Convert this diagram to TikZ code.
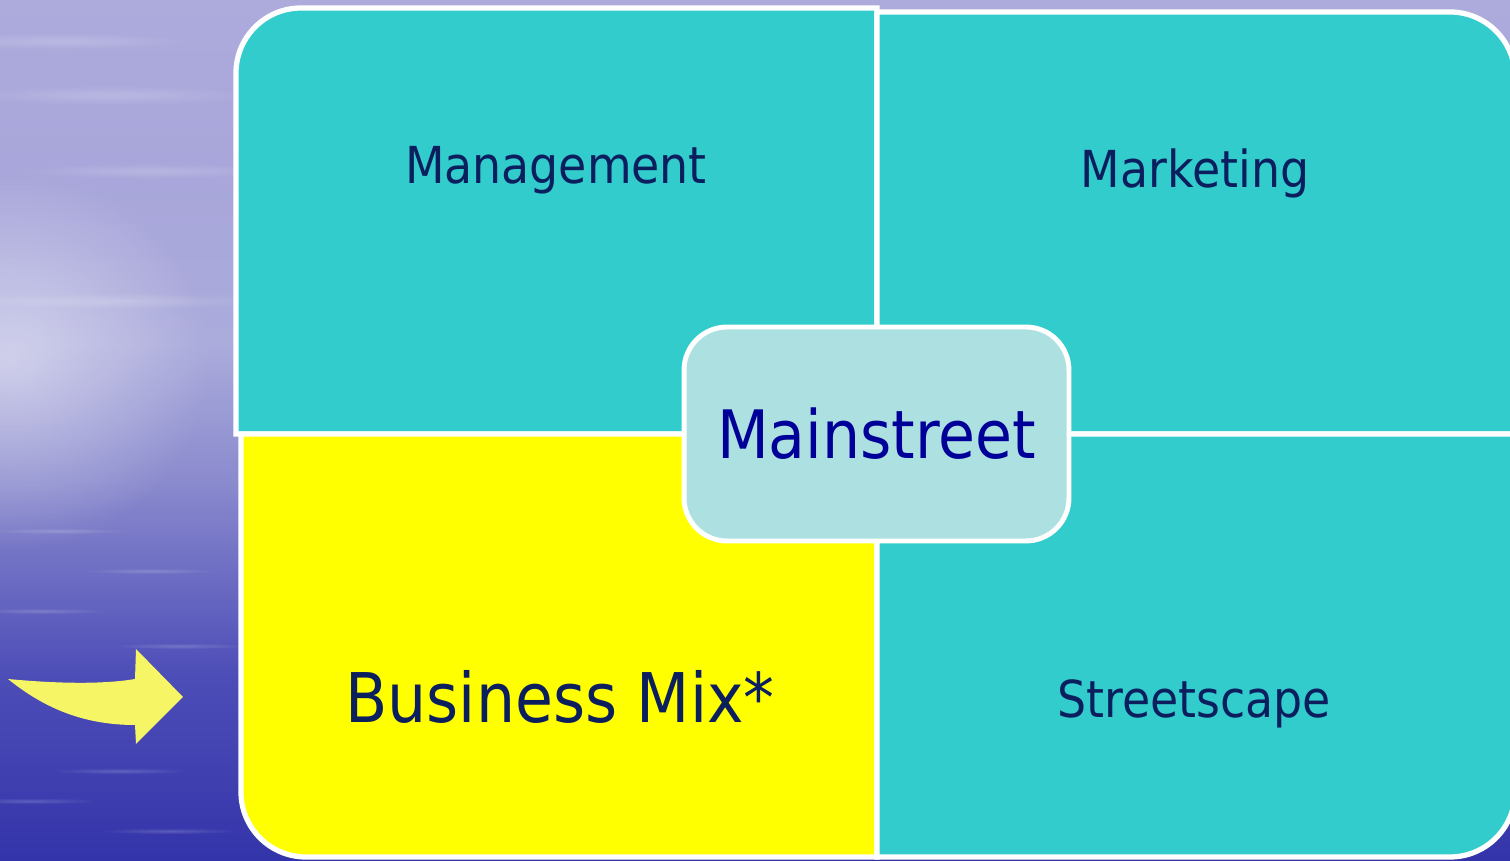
\documentclass[tikz,border=0pt]{standalone}
\usepackage{fontspec}
\setmainfont{DejaVu Sans Condensed}
\usetikzlibrary{fadings}
\usepackage{xcolor}

\definecolor{seadeep}{HTML}{3434AA}
\definecolor{seadark}{HTML}{4E4EB8}
\definecolor{seamid}{HTML}{8A8ACE}
\definecolor{sealight}{HTML}{ABABDC}
\definecolor{seahaze}{HTML}{A8A6DA}
\definecolor{seatop}{HTML}{ADABDC}
\definecolor{quadteal}{HTML}{33CCCC}
\definecolor{quadyellow}{HTML}{FFFF00}
\definecolor{hubfill}{HTML}{ADE1E1}
\definecolor{hubblue}{HTML}{000099}
\definecolor{labelnavy}{HTML}{0B1F5E}
\definecolor{arrowyellow}{HTML}{F5F566}

% the path is fitted to 25bp--75bp of the shading
\pgfdeclareverticalshading{seaback}{100bp}{color(0bp)=(seadeep); color(25bp)=(seadeep);
  color(36bp)=(seadark); color(47bp)=(seamid); color(55bp)=(sealight);
  color(65bp)=(seahaze); color(75bp)=(seatop); color(100bp)=(seatop)}
\tikzfading[name=softglow, inner color=transparent!0, outer color=transparent!100]

\begin{document}
\begin{tikzpicture}[x=0.02cm, y=0.02cm,
  quad/.style={draw=white, line width=3pt},
  quadtext/.style={text=labelnavy, font=\fontsize{29}{35}\selectfont, anchor=base, inner sep=0pt},
  hub/.style={draw=white, line width=2.8pt, fill=hubfill, rounded corners=0.86cm,
    minimum width=7.7cm, minimum height=4.28cm, inner sep=0pt,
    text=hubblue, font=\fontsize{38}{46}\selectfont},
  streak/.style={white, opacity=0.18, path fading=softglow}]

  \useasboundingbox (0,0) rectangle (1510,861);

  %--- sea background ---
  \shade[shading=seaback] (0,0) rectangle (1510,861);
  \fill[white, opacity=0.45, path fading=softglow]
    (10,500) ellipse [x radius=200, y radius=190];
  \fill[streak] (110,766) ellipse [x radius=150, y radius=10];
  \fill[streak] (150,690) ellipse [x radius=140, y radius=8];
  \fill[streak] (60,820) ellipse [x radius=130, y radius=8];
  \fill[streak] (120,560) ellipse [x radius=160, y radius=8];
  \foreach \yy/\xx in {330/60, 290/150, 250/40, 215/180, 90/120, 60/30, 30/170}
    \fill[streak] (\xx,\yy) ellipse [x radius=70, y radius=3];

  %--- Management (top left) ---
  \filldraw[quad, fill=quadteal] (236,427) -- (236,788)
    arc[start angle=180, end angle=90, radius=1.3cm] -- (877,853) -- (877,427) -- cycle;

  %--- Marketing (top right) ---
  \filldraw[quad, fill=quadteal] (877,427) -- (877,849) -- (1450,849)
    arc[start angle=90, end angle=0, radius=1.3cm] -- (1515,427) -- cycle;

  %--- Business Mix (bottom left) ---
  \filldraw[quad, fill=quadyellow] (241,427) -- (877,427) -- (877,4) -- (306,4)
    arc[start angle=270, end angle=180, radius=1.3cm] -- cycle;

  %--- Streetscape (bottom right) ---
  \filldraw[quad, fill=quadteal] (877,427) -- (1515,427) -- (1515,69)
    arc[start angle=0, end angle=-90, radius=1.3cm] -- (877,4) -- cycle;

  % quadrant labels, set on their baselines
  \node[quadtext] (mgmt) at (556,677) {Management};
  \node[quadtext] (mktg) at (1195,673) {Marketing};
  \node[quadtext, font=\fontsize{39}{47}\selectfont] (bizmix) at (560,138) {Business Mix*};
  \node[quadtext] (street) at (1194,143) {Streetscape};

  %--- centre box ---
  \node[hub] (hub) at (876.5,427) {Mainstreet};

  %--- pointer to Business Mix ---
  \fill[arrowyellow] (8,182) .. controls (50,178) and (100,176) .. (135,182)
    -- (136,212) -- (183,164) -- (136,117) -- (135,136)
    .. controls (85,136) and (45,152) .. (8,182) -- cycle;

\end{tikzpicture}
\end{document}
